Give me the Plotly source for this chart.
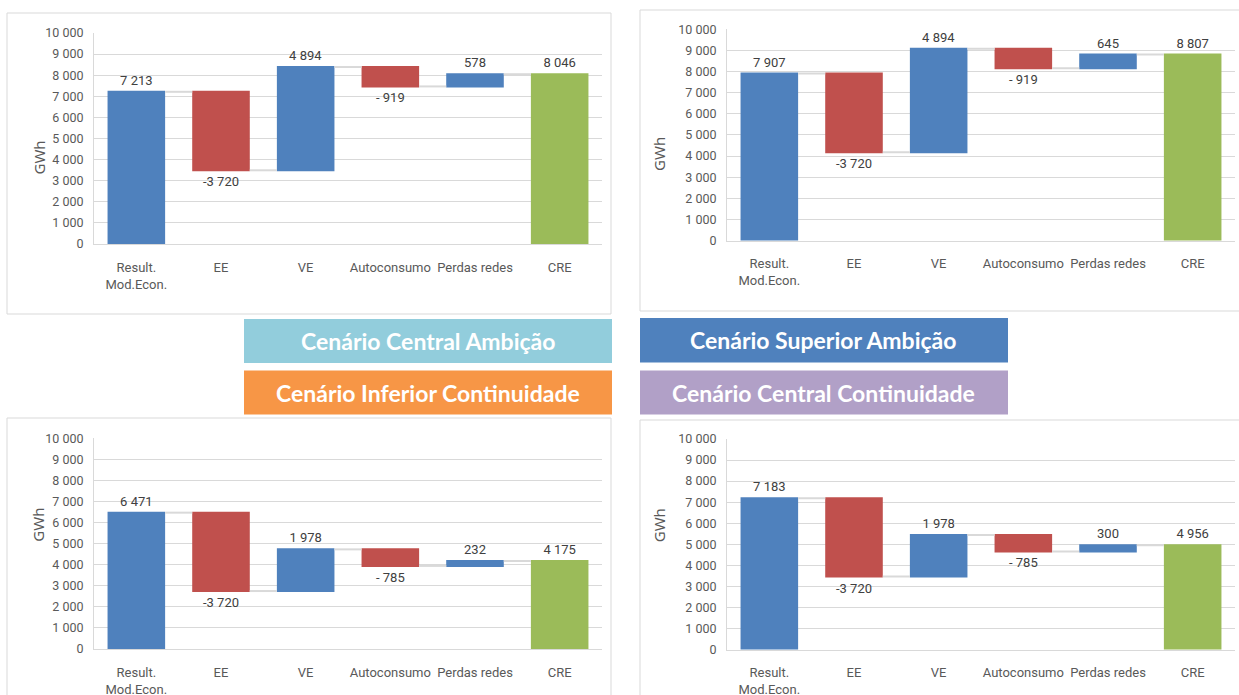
import plotly.graph_objects as go

W, H = 1239, 695

categories = ["Result.<br>Mod.Econ.", "EE", "VE", "Autoconsumo", "Perdas redes", "CRE"]
measures = ["relative", "relative", "relative", "relative", "relative", "absolute"]

central_ambicao = [7213, -3720, 4894, -919, 578, 8046]
superior_ambicao = [7907, -3720, 4894, -919, 645, 8807]
inferior_continuidade = [6471, -3720, 1978, -785, 232, 4175]
central_continuidade = [7183, -3720, 1978, -785, 300, 4956]

scenario_labels = ["Cenário Central Ambição", "Cenário Superior Ambição",
                   "Cenário Inferior Continuidade", "Cenário Central Continuidade"]
scenario_colors = ["#92CDDC", "#4F81BD", "#F79646", "#B1A0C7"]

BLUE, RED, GREEN = "#4F81BD", "#C0504D", "#9BBB59"
GRID = "#D9D9D9"
TXT = "#595959"
FONT = "Roboto, sans-serif"


def fmt(v):
    s = f"{abs(v):,}".replace(",", " ")
    if v < 0:
        return ("-" if abs(v) >= 1000 else "- ") + s
    return s


def fx(px):
    return px / W


def fy(py):
    return 1 - py / H


# panel geometry in pixels: (plot left, plot right, y of 0, y of 10000)
panels = [
    (94, 602, 244, 33),
    (727, 1235, 240.6, 29.3),
    (94, 602, 649, 438.3),
    (727, 1235, 649.5, 439),
]
series = [central_ambicao, superior_ambicao, inferior_continuidade, central_continuidade]

fig = go.Figure()
annotations = []
shapes = []

for i, (vals, (x0, x1, y0, y1)) in enumerate(zip(series, panels)):
    n = "" if i == 0 else str(i + 1)
    fig.add_trace(go.Waterfall(
        x=categories, y=vals, measure=measures,
        text=[fmt(v) for v in vals], textinfo="text", textposition="outside",
        textfont=dict(family=FONT, size=13, color="#404040"),
        increasing=dict(marker=dict(color=BLUE)),
        decreasing=dict(marker=dict(color=RED)),
        totals=dict(marker=dict(color=GREEN)),
        connector=dict(line=dict(color=GRID, width=2)),
        cliponaxis=False, showlegend=False, hoverinfo="skip",
        xaxis="x" + n, yaxis="y" + n,
    ))
    fig.layout["xaxis" + n] = dict(
        domain=[fx(x0), fx(x1)], anchor="y" + n, showgrid=False, automargin=False,
        showline=True, linecolor=GRID, linewidth=1, ticks="", tickangle=0,
        tickfont=dict(family=FONT, size=13, color=TXT), ticklabelstandoff=11,
        fixedrange=True,
    )
    fig.layout["yaxis" + n] = dict(
        domain=[fy(y0), fy(y1)], anchor="x" + n, range=[0, 10000], dtick=1000,
        tickformat=",d", showgrid=True, gridcolor=GRID, gridwidth=1, automargin=False,
        zeroline=False, showline=True, linecolor=GRID, linewidth=1, ticks="",
        tickfont=dict(family=FONT, size=12.5, color=TXT), ticklabelstandoff=7,
        fixedrange=True,
    )
    annotations.append(dict(
        text="GWh", textangle=-90, xref="paper", yref="paper",
        x=fx(26 if i % 2 == 0 else 659), y=fy((y0 + y1) / 2), showarrow=False,
        font=dict(family="Noto Sans, sans-serif", size=15, color=TXT),
    ))

# panel borders
for (a, b, c, d) in [(7, 611, 13, 314), (640, 1245, 10, 311), (7, 611, 418, 710), (640, 1245, 420, 710)]:
    shapes.append(dict(type="rect", xref="paper", yref="paper",
                       x0=fx(a), x1=fx(b), y0=fy(d), y1=fy(c),
                       line=dict(color=GRID, width=1), fillcolor="rgba(0,0,0,0)", layer="below"))

# scenario label boxes
boxes = [(244, 612, 319, 363), (640, 1008, 318, 362.5), (244, 612, 370.5, 414.5), (640, 1008, 370.5, 414.5)]
for lbl, col, (a, b, c, d) in zip(scenario_labels, scenario_colors, boxes):
    shapes.append(dict(type="rect", xref="paper", yref="paper",
                       x0=fx(a), x1=fx(b), y0=fy(d), y1=fy(c),
                       line=dict(width=0), fillcolor=col, layer="above"))
    annotations.append(dict(
        text="<b>" + lbl + "</b>", xref="paper", yref="paper",
        x=fx((a + b) / 2), y=fy((c + d) / 2), showarrow=False,
        font=dict(family="Lato, sans-serif", size=23, color="white"),
    ))

fig.update_layout(
    width=W, height=H, margin=dict(l=0, r=0, t=0, b=0, autoexpand=False),
    paper_bgcolor="white", plot_bgcolor="white",
    separators=", ", waterfallgap=0.32,
    annotations=annotations, shapes=shapes,
)

fig.write_html("out.html", config={"displayModeBar": False},
               post_script="document.body.style.margin='0px';")
